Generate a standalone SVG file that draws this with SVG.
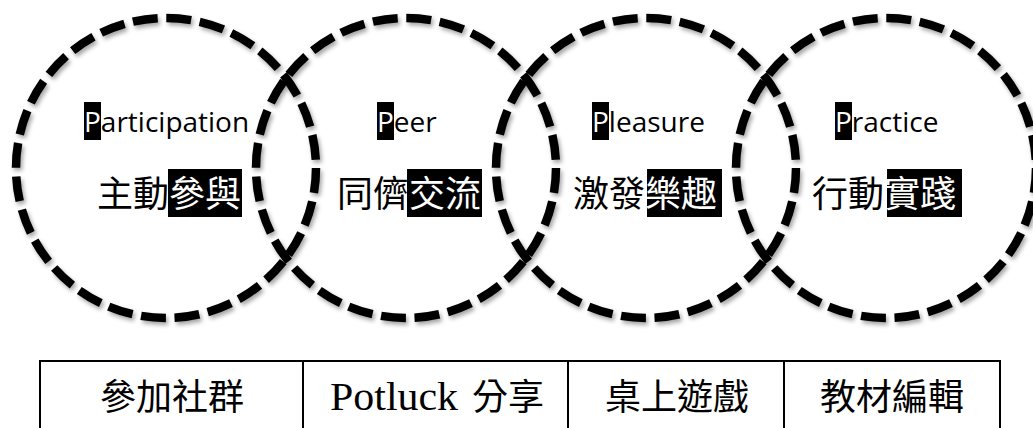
<svg xmlns="http://www.w3.org/2000/svg" width="1033" height="428" viewBox="0 0 1033 428">
  <defs>
    <filter id="shadow" x="-10%" y="-10%" width="120%" height="120%">
      <feDropShadow dx="2" dy="3" stdDeviation="2" flood-color="#000" flood-opacity="0.35"/>
    </filter>
  </defs>
  <style>
    .ring { fill: none; stroke: #000; stroke-width: 8.5; stroke-dasharray: 25 8.66; filter: url(#shadow); }
    .en { font-family: "Open Sans", "Liberation Sans", sans-serif; font-size: 28px; fill: #000; }
    .zh { font-family: "Noto Sans CJK TC", sans-serif; font-size: 36px; fill: #000; }
    .hl { fill: #000; }
    .inv { fill: #fff; }
    .cell { fill: none; stroke: #000; stroke-width: 2; }
    .tb { font-family: "Noto Sans CJK TC", sans-serif; font-size: 36px; fill: #000; }
    .lat { font-family: "Liberation Serif", serif; font-size: 40px; }
  </style>
  <rect width="1033" height="428" fill="#fff"/>

  <g id="circle-participation">
    <circle class="ring" cx="166" cy="168" r="150"/>
    <rect class="hl" x="84" y="102" width="17" height="38"/>
    <text class="en" x="84" y="132"><tspan class="inv">P</tspan>articipation</text>
    <rect class="hl" x="168" y="169" width="74" height="48"/>
    <text class="zh" x="97" y="207">主動<tspan class="inv">參與</tspan></text>
  </g>

  <g id="circle-peer">
    <circle class="ring" cx="406" cy="168" r="150"/>
    <rect class="hl" x="377" y="102" width="17" height="38"/>
    <text class="en" x="377" y="132"><tspan class="inv">P</tspan>eer</text>
    <rect class="hl" x="407" y="169" width="75" height="48"/>
    <text class="zh" x="337" y="207">同儕<tspan class="inv">交流</tspan></text>
  </g>

  <g id="circle-pleasure">
    <circle class="ring" cx="646" cy="168" r="150"/>
    <rect class="hl" x="592" y="102" width="17" height="38"/>
    <text class="en" x="592" y="132"><tspan class="inv">P</tspan>leasure</text>
    <rect class="hl" x="647" y="169" width="75" height="48"/>
    <text class="zh" x="573" y="207">激發<tspan class="inv">樂趣</tspan></text>
  </g>

  <g id="circle-practice">
    <circle class="ring" cx="886" cy="168" r="150"/>
    <rect class="hl" x="835" y="102" width="17" height="38"/>
    <text class="en" x="835" y="132"><tspan class="inv">P</tspan>ractice</text>
    <rect class="hl" x="887" y="169" width="75" height="48"/>
    <text class="zh" x="812" y="207">行動<tspan class="inv">實踐</tspan></text>
  </g>

  <g id="table">
    <g id="cell-community">
      <rect class="cell" x="40" y="361" width="263" height="80"/>
      <text class="tb" x="172" y="410" text-anchor="middle">參加社群</text>
    </g>
    <g id="cell-potluck">
      <rect class="cell" x="303" y="361" width="265" height="80"/>
      <text class="tb" x="330" y="410"><tspan class="lat" textLength="128" lengthAdjust="spacingAndGlyphs">Potluck</tspan> <tspan x="472">分享</tspan></text>
    </g>
    <g id="cell-boardgame">
      <rect class="cell" x="568" y="361" width="216" height="80"/>
      <text class="tb" x="677" y="410" text-anchor="middle">桌上遊戲</text>
    </g>
    <g id="cell-materials">
      <rect class="cell" x="784" y="361" width="216" height="80"/>
      <text class="tb" x="892" y="410" text-anchor="middle">教材編輯</text>
    </g>
  </g>
</svg>
